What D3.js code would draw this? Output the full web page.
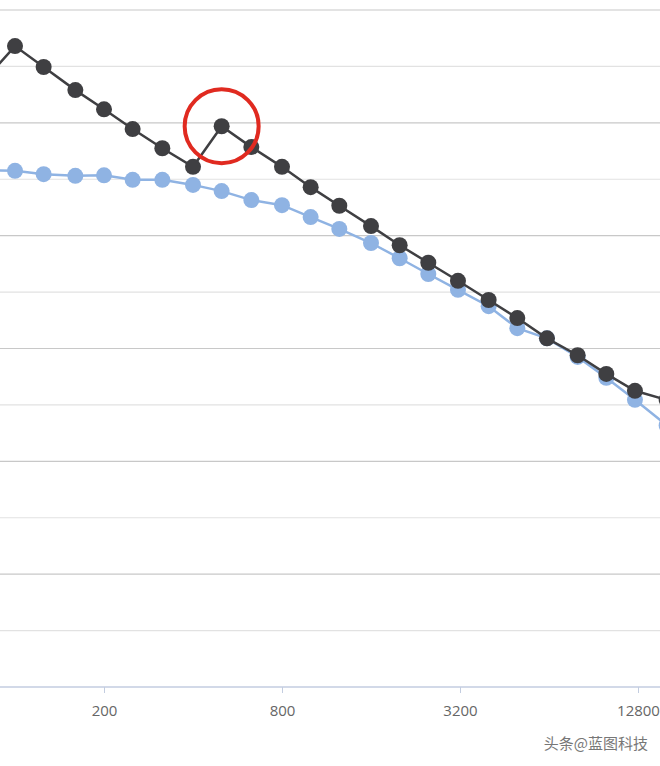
<!DOCTYPE html>
<html><head><meta charset="utf-8">
<script src="https://cdn.jsdelivr.net/npm/d3@7"></script>
<style>body{margin:0;background:#fff}svg{display:block}</style>
</head><body>
<script>
const freqs = [80,100,125,160,200,250,315,400,500,630,800,1000,1250,1600,2000,2500,3150,4000,5000,6300,8000,10000,12500,16000];
const seriesDark = [10.79,11.36,10.99,10.58,10.24,9.89,9.55,9.22,9.94,9.57,9.22,8.86,8.53,8.17,7.83,7.52,7.20,6.86,6.54,6.18,5.88,5.55,5.25,5.09];
const seriesBlue = [9.16,9.15,9.09,9.06,9.07,8.99,8.99,8.90,8.79,8.63,8.54,8.33,8.12,7.87,7.60,7.32,7.04,6.75,6.36,6.18,5.85,5.48,5.09,4.64];
const xTicks = [200,800,3200,12800];
const gridValues = [0,1,2,3,4,5,6,7,8,9,10,11,12];
const highlightFreq = 500;

const W=660,H=766;
const svg=d3.select("body").append("svg").attr("width",W).attr("height",H);
const x=d3.scaleLog().base(2).domain([200,12800]).range([104,638]);
const y=d3.scaleLinear().domain([0,12]).range([687,10]);

svg.append("g").selectAll("line").data(gridValues.slice(1)).join("line")
 .attr("x1",0).attr("x2",W).attr("y1",d=>y(d)).attr("y2",d=>y(d))
 .attr("stroke",(d)=>d%2===0?"#c8c8c8":"#e2e2e2").attr("stroke-width",1.2);

const ax=svg.append("g").attr("transform",`translate(0,${y(0)})`)
 .call(d3.axisBottom(x).tickValues(xTicks).tickFormat(d3.format("d")).tickSize(6).tickPadding(12));
ax.select(".domain").remove();
ax.selectAll(".tick line").attr("stroke","#c3cde0");
ax.selectAll("text").attr("fill","#666").attr("font-size",15).attr("font-family","Open Sans, sans-serif");
svg.append("line").attr("x1",0).attr("x2",W).attr("y1",y(0)).attr("y2",y(0)).attr("stroke","#c3cde0").attr("stroke-width",1.5);

function series(vals,color){
  const data=freqs.map((f,i)=>[f,vals[i]]);
  svg.append("path").datum(data).attr("fill","none").attr("stroke",color).attr("stroke-width",2.5)
   .attr("d",d3.line().x(d=>x(d[0])).y(d=>y(d[1])));
  svg.append("g").selectAll("circle").data(data).join("circle")
   .attr("cx",d=>x(d[0])).attr("cy",d=>y(d[1])).attr("r",8).attr("fill",color);
}
series(seriesBlue,"#8fb3e3");
series(seriesDark,"#3f3f42");

const hi=freqs.indexOf(highlightFreq);
svg.append("circle").attr("cx",x(highlightFreq)).attr("cy",y(seriesDark[hi])).attr("r",37)
 .attr("fill","none").attr("stroke","#e02a20").attr("stroke-width",4);

svg.append("text").attr("x",648).attr("y",749).attr("text-anchor","end")
 .attr("font-family","Noto Sans CJK SC").attr("font-size",15).attr("fill","#777").text("头条@蓝图科技");
</script>
</body></html>
